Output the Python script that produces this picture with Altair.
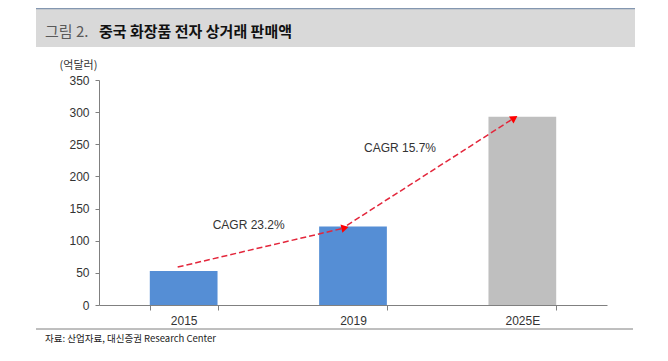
import altair as alt
import pandas as pd

# ---- data ----
years = ["2015", "2019", "2025E"]
sales = [53, 122, 293]
kinds = ["actual", "actual", "estimate"]
y_ticks = [0, 50, 100, 150, 200, 250, 300, 350]

arrow_from = ["2015", "2019"]
arrow_to = ["2019", "2025E"]
arrow_y0 = [59, 124]
arrow_y1 = [120, 291]

cagr_text = ["CAGR 23.2%", "CAGR 15.7%"]
cagr_year = ["2015", "2019"]
cagr_y = [124, 244]

title_prefix = "그림 2."
title_main = "중국 화장품 전자 상거래 판매액"
y_unit = "(억달러)"
source_text = "자료: 산업자료, 대신증권 Research Center"

bars_df = pd.DataFrame({"year": years, "sales": sales, "kind": kinds})
arrows_df = pd.DataFrame({"a": arrow_from, "b": arrow_to, "y0": arrow_y0, "y1": arrow_y1, "i": [0, 1]})
cagr_df = pd.DataFrame({"t": cagr_text, "year": cagr_year, "y": cagr_y, "i": [0, 1]})

FONT = "Liberation Sans"
KFONT = "Noto Sans CJK KR"
RED = "#e3263b"

xscale = alt.Scale(domain=years, paddingInner=0.6, paddingOuter=0.3)
yscale = alt.Scale(domain=[0, 350], nice=False)

x_axis = alt.Axis(title=None, labelAngle=0, tickBand="extent", tickSize=5,
                  domainColor="#808080", tickColor="#808080",
                  labelColor="#333333", labelFont=FONT, labelFontSize=12,
                  labelPadding=5)
y_axis = alt.Axis(values=y_ticks, grid=False, tickSize=4,
                  labelOverlap=False, labelFlush=False,
                  domainColor="#808080", tickColor="#808080",
                  labelColor="#333333", labelFont=FONT, labelFontSize=12,
                  labelPadding=6,
                  title=y_unit, titleAngle=0, titleX=-21, titleY=-15,
                  titleAlign="center", titleBaseline="middle",
                  titleFont=KFONT, titleFontSize=11, titleFontWeight="normal",
                  titleColor="#333333")

xn = lambda f: alt.X(f, scale=xscale, sort=years, axis=x_axis)
yq = lambda f: alt.Y(f, scale=yscale, axis=y_axis)

bars = alt.Chart(bars_df).mark_bar().encode(
    x=xn("year:N"),
    y=yq("sales:Q"),
    color=alt.Color("kind:N", scale=alt.Scale(domain=["actual", "estimate"],
                                              range=["#558ed5", "#bfbfbf"]), legend=None),
)

rules = alt.Chart(arrows_df).mark_rule(
    color=RED, strokeWidth=1.5, strokeDash=[6, 3], xOffset=-6, x2Offset=-8
).encode(x=xn("a:N"), x2="b:N", y=yq("y0:Q"), y2="y1:Q")

head1 = alt.Chart(arrows_df).transform_filter("datum.i == 0").mark_point(
    shape="triangle-right", filled=True, color="#ff0000", opacity=1, size=70,
    angle=347, xOffset=-8
).encode(x=xn("b:N"), y=yq("y1:Q"))

head2 = alt.Chart(arrows_df).transform_filter("datum.i == 1").mark_point(
    shape="triangle-right", filled=True, color="#ff0000", opacity=1, size=70,
    angle=327, xOffset=-8
).encode(x=xn("b:N"), y=yq("y1:Q"))

lab1 = alt.Chart(cagr_df).transform_filter("datum.i == 0").mark_text(
    font=FONT, fontSize=12, color="#333333", dx=65, baseline="middle"
).encode(x=xn("year:N"), y=yq("y:Q"), text="t:N")

lab2 = alt.Chart(cagr_df).transform_filter("datum.i == 1").mark_text(
    font=FONT, fontSize=12, color="#333333", dx=47, baseline="middle"
).encode(x=xn("year:N"), y=yq("y:Q"), text="t:N")

one = alt.Data(values=[{}])

band = alt.Chart(one).mark_rect(color="#d9d9d9").encode(
    x=alt.value(-63), x2=alt.value(536), y=alt.value(-71), y2=alt.value(-33))
topline = alt.Chart(one).mark_rule(color="#8497b0", strokeWidth=1.5).encode(
    x=alt.value(-63), x2=alt.value(536), y=alt.value(-71.5))
bottomline = alt.Chart(one).mark_rule(color="#7f7f7f", strokeWidth=1).encode(
    x=alt.value(-63), x2=alt.value(534), y=alt.value(249))

t1 = alt.Chart(one).mark_text(font=KFONT, fontSize=15, color="#595959", align="left",
                              baseline="middle").encode(
    x=alt.value(-54), y=alt.value(-48), text=alt.value(title_prefix))
t2 = alt.Chart(one).mark_text(font=KFONT, fontSize=15, fontWeight="bold", color="#111111",
                              align="left", baseline="middle").encode(
    x=alt.value(0), y=alt.value(-48), text=alt.value(title_main))
src = alt.Chart(one).mark_text(font=KFONT, fontSize=9.5, color="#222222", align="left",
                               baseline="middle").encode(
    x=alt.value(-54), y=alt.value(259), text=alt.value(source_text))

chart = alt.layer(
    band, topline, bottomline, t1, t2, src,
    bars, rules, head1, head2, lab1, lab2
).properties(
    width=508, height=225,
    autosize=alt.AutoSizeParams(type="none"),
    padding={"left": 91, "top": 72, "right": 50, "bottom": 40},
).configure_view(stroke=None)

chart.save("out.html", embed_options={"renderer": "svg", "actions": False})
